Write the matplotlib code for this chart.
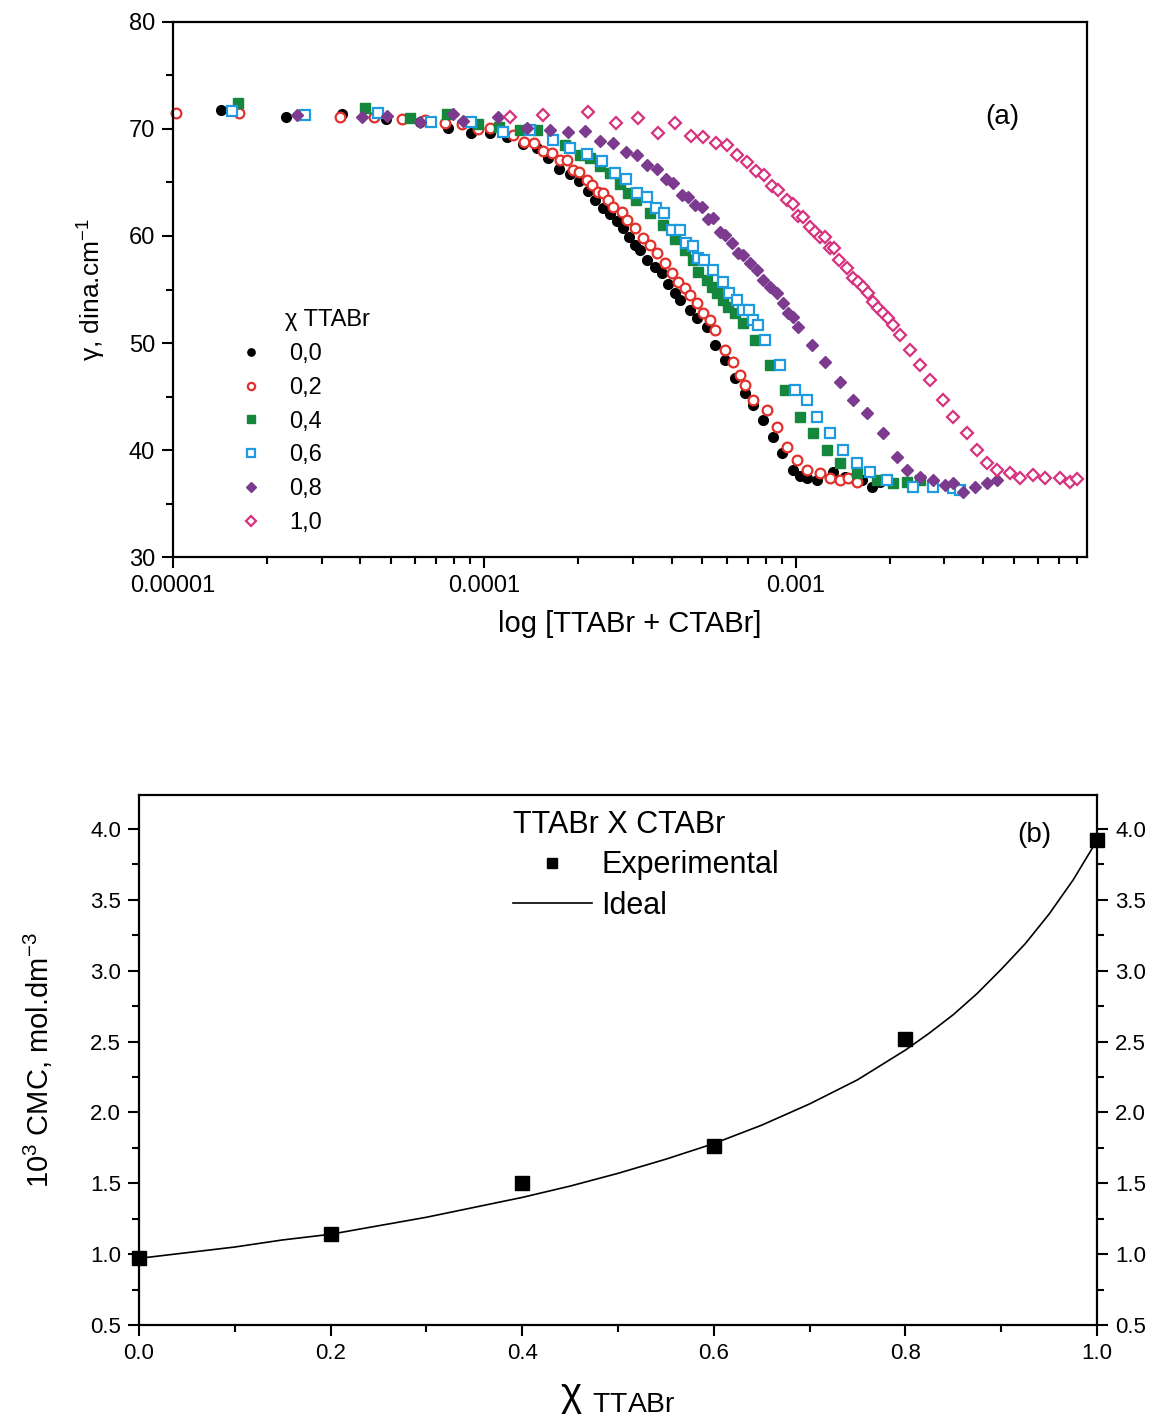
import numpy as np
import matplotlib
matplotlib.use("Agg")
import matplotlib.pyplot as plt
from matplotlib.ticker import FixedLocator, FixedFormatter, MultipleLocator, FormatStrFormatter, NullFormatter

plt.rcParams['font.family'] = ['Liberation Sans', 'DejaVu Sans']
plt.rcParams['mathtext.fontset'] = 'custom'
plt.rcParams['mathtext.rm'] = 'Liberation Sans'
plt.rcParams['mathtext.it'] = 'Liberation Sans:italic'
plt.rcParams['mathtext.bf'] = 'Liberation Sans:bold'

# ---- (a) surface tension vs total surfactant concentration ----
# x values are log10 of [TTABr + CTABr] (mol/L), y values are gamma (dina/cm)
logc_00 = [-4.846, -4.637, -4.457, -4.316, -4.207, -4.117, -4.043, -3.982, -3.928, -3.876,
           -3.831, -3.796, -3.761, -3.726, -3.697, -3.668, -3.645, -3.620, -3.597, -3.575,
           -3.555, -3.536, -3.517, -3.501, -3.478, -3.453, -3.430, -3.411, -3.388, -3.372,
           -3.340, -3.318, -3.286, -3.260, -3.228, -3.196, -3.164, -3.138, -3.106, -3.074,
           -3.045, -3.010, -2.987, -2.965, -2.933, -2.881, -2.843, -2.817, -2.788, -2.756, -2.730]
gam_00 = [71.78, 71.12, 71.40, 70.93, 70.65, 70.09, 69.63, 69.63, 69.25, 68.60,
          68.22, 67.29, 66.26, 65.79, 65.14, 64.21, 63.36, 62.62, 62.06, 61.40,
          60.75, 59.91, 59.16, 58.69, 57.76, 57.10, 56.54, 55.51, 54.67, 54.02,
          53.08, 52.34, 51.50, 49.81, 48.41, 46.73, 45.33, 44.21, 42.80, 41.21,
          39.72, 38.13, 37.57, 37.38, 37.20, 37.94, 37.48, 37.38, 37.20, 36.54, 37.01]

logc_02 = [-4.990, -4.788, -4.464, -4.355, -4.265, -4.191, -4.127, -4.072, -4.021, -3.982,
           -3.909, -3.873, -3.841, -3.812, -3.783, -3.758, -3.735, -3.716, -3.697, -3.671,
           -3.655, -3.636, -3.620, -3.604, -3.587, -3.559, -3.543, -3.517, -3.491, -3.469,
           -3.446, -3.421, -3.398, -3.379, -3.356, -3.340, -3.318, -3.299, -3.276, -3.260,
           -3.228, -3.202, -3.180, -3.164, -3.138, -3.093, -3.061, -3.029, -2.997, -2.965,
           -2.923, -2.891, -2.859, -2.833, -2.804]
gam_02 = [71.50, 71.50, 71.12, 71.12, 70.93, 70.84, 70.56, 70.47, 70.00, 70.09,
          69.44, 68.79, 68.69, 67.94, 67.76, 67.10, 67.10, 66.17, 65.98, 65.23,
          64.77, 64.11, 64.02, 63.36, 62.71, 62.24, 61.50, 60.75, 59.81, 59.16,
          58.41, 57.48, 56.54, 55.70, 55.14, 54.49, 53.74, 52.80, 52.15, 51.21,
          49.35, 48.22, 47.01, 46.07, 44.67, 43.74, 42.15, 40.28, 39.07, 38.13,
          37.85, 37.38, 37.20, 37.38, 37.01]

logc_04 = [-4.791, -4.384, -4.239, -4.120, -4.021, -3.953, -3.886, -3.831, -3.742, -3.693,
           -3.661, -3.629, -3.597, -3.565, -3.539, -3.514, -3.469, -3.427, -3.388, -3.356,
           -3.331, -3.315, -3.286, -3.270, -3.254, -3.234, -3.218, -3.196, -3.170, -3.132,
           -3.083, -3.035, -2.987, -2.945, -2.900, -2.859, -2.804, -2.740, -2.689, -2.644, -2.602]
gam_04 = [72.43, 71.96, 71.03, 71.40, 70.47, 70.19, 69.91, 69.91, 68.50, 67.57,
          67.29, 66.54, 65.89, 64.86, 64.02, 63.36, 62.15, 61.03, 59.72, 58.69,
          57.76, 56.64, 55.89, 55.23, 54.67, 54.02, 53.36, 52.80, 51.87, 50.28,
          47.94, 45.61, 43.08, 41.59, 40.00, 38.79, 37.85, 37.20, 36.92, 37.01, 37.20]

logc_06 = [-4.811, -4.576, -4.342, -4.172, -4.043, -3.941, -3.854, -3.780, -3.726, -3.671,
           -3.623, -3.581, -3.546, -3.510, -3.478, -3.449, -3.424, -3.398, -3.372, -3.353,
           -3.331, -3.315, -3.295, -3.266, -3.234, -3.215, -3.189, -3.170, -3.151, -3.138,
           -3.122, -3.100, -3.051, -3.003, -2.965, -2.933, -2.891, -2.849, -2.804, -2.762,
           -2.708, -2.624, -2.560, -2.496, -2.474]
gam_06 = [71.68, 71.31, 71.50, 70.65, 70.65, 69.72, 69.91, 68.97, 68.22, 67.66,
          67.01, 65.89, 65.33, 64.02, 63.64, 62.62, 62.15, 60.56, 60.56, 59.35,
          59.07, 57.94, 57.76, 56.82, 55.70, 54.67, 54.02, 53.08, 53.08, 52.15,
          51.68, 50.28, 47.94, 45.61, 44.67, 43.08, 41.59, 40.00, 38.79, 37.94,
          37.20, 36.54, 36.54, 36.45, 36.26]

logc_08 = [-4.602, -4.393, -4.313, -4.207, -4.101, -4.069, -3.957, -3.864, -3.790, -3.732,
           -3.677, -3.629, -3.587, -3.546, -3.510, -3.478, -3.446, -3.417, -3.395, -3.366,
           -3.347, -3.324, -3.302, -3.282, -3.266, -3.244, -3.228, -3.205, -3.186, -3.170,
           -3.148, -3.125, -3.106, -3.083, -3.061, -3.042, -3.026, -3.010, -2.994, -2.949,
           -2.907, -2.859, -2.817, -2.772, -2.721, -2.676, -2.644, -2.602, -2.560, -2.522,
           -2.496, -2.464, -2.425, -2.387, -2.355]
gam_08 = [71.31, 71.12, 71.21, 70.65, 71.40, 70.75, 71.12, 70.09, 69.91, 69.72,
          69.81, 68.88, 68.69, 67.85, 67.57, 66.64, 66.26, 65.33, 64.95, 63.83,
          63.64, 62.90, 62.71, 61.59, 61.68, 60.37, 60.09, 59.35, 58.41, 58.22,
          57.48, 56.82, 55.89, 55.23, 54.67, 53.74, 52.80, 52.43, 51.50, 49.81,
          48.22, 46.36, 44.67, 43.46, 41.59, 39.35, 38.13, 37.48, 37.20, 36.73,
          36.92, 36.07, 36.54, 36.92, 37.20]

logc_10 = [-3.918, -3.812, -3.668, -3.578, -3.507, -3.443, -3.388, -3.337, -3.299, -3.257,
           -3.222, -3.189, -3.157, -3.128, -3.103, -3.077, -3.058, -3.029, -3.010, -2.994,
           -2.978, -2.955, -2.939, -2.923, -2.907, -2.891, -2.878, -2.862, -2.836, -2.817,
           -2.801, -2.785, -2.769, -2.753, -2.737, -2.721, -2.705, -2.689, -2.666, -2.634,
           -2.602, -2.570, -2.528, -2.496, -2.451, -2.419, -2.387, -2.355, -2.313, -2.281,
           -2.239, -2.201, -2.152, -2.120, -2.098]
gam_10 = [71.12, 71.31, 71.59, 70.56, 71.03, 69.63, 70.56, 69.35, 69.25, 68.69,
          68.50, 67.57, 66.92, 66.07, 65.70, 64.67, 64.30, 63.36, 62.99, 61.87,
          61.78, 60.84, 60.37, 59.91, 59.91, 58.88, 58.88, 57.76, 57.01, 56.07,
          55.70, 55.23, 54.67, 53.83, 53.27, 52.80, 52.34, 51.68, 50.75, 49.35,
          47.94, 46.54, 44.67, 43.08, 41.59, 40.00, 38.79, 38.13, 37.85, 37.38,
          37.66, 37.38, 37.38, 37.01, 37.29]

fractions = ['0,0', '0,2', '0,4', '0,6', '0,8', '1,0']

# ---- (b) CMC vs mole fraction of TTABr ----
chi_exp = [0.0, 0.2, 0.4, 0.6, 0.8, 1.0]
cmc_exp = [0.97, 1.14, 1.50, 1.76, 2.52, 3.92]
chi_ideal = [0.00, 0.05, 0.10, 0.15, 0.20, 0.25, 0.30, 0.35, 0.40, 0.45, 0.50,
             0.55, 0.60, 0.65, 0.70, 0.75, 0.80, 0.825, 0.85, 0.875, 0.90,
             0.925, 0.95, 0.975, 1.00]
cmc_ideal = [0.97, 1.01, 1.05, 1.10, 1.14, 1.20, 1.26, 1.33, 1.40, 1.48, 1.57,
             1.67, 1.78, 1.91, 2.06, 2.23, 2.44, 2.56, 2.69, 2.84, 3.01,
             3.19, 3.40, 3.64, 3.92]

fig = plt.figure(figsize=(11.53, 14.16), dpi=100)

# top panel
ax1 = fig.add_axes([0.1500, 0.6066, 0.7927, 0.3779])
series = [
    (logc_00, gam_00, dict(marker='o', color='black', mfc='black', ms=7)),
    (logc_02, gam_02, dict(marker='o', color='#e2302b', mfc='white', ms=7, mew=1.6)),
    (logc_04, gam_04, dict(marker='s', color='#14873c', mfc='#14873c', ms=6.8)),
    (logc_06, gam_06, dict(marker='s', color='#1e9ae0', mfc='white', ms=6.8, mew=1.6)),
    (logc_08, gam_08, dict(marker='D', color='#7c3b8f', mfc='#7c3b8f', ms=6.5)),
    (logc_10, gam_10, dict(marker='D', color='#d6327f', mfc='white', ms=6.5, mew=1.6)),
]
handles = []
for (lc, g, st), lab in zip(series, fractions):
    h, = ax1.plot(10.0 ** np.array(lc), g, linestyle='none', label=lab, clip_on=False, **st)
    handles.append(h)

ax1.set_xscale('log')
ax1.set_xlim(1e-5, 8.6e-3)
ax1.set_ylim(30, 80)
ax1.xaxis.set_major_locator(FixedLocator([1e-5, 1e-4, 1e-3]))
ax1.xaxis.set_major_formatter(FixedFormatter(['0.00001', '0.0001', '0.001']))
ax1.xaxis.set_minor_locator(FixedLocator([k * 10.0 ** e for e in (-5, -4, -3) for k in range(2, 10)]))
ax1.xaxis.set_minor_formatter(NullFormatter())
ax1.yaxis.set_major_locator(MultipleLocator(10))
ax1.yaxis.set_minor_locator(MultipleLocator(5))
ax1.tick_params(which='both', direction='out', top=False, right=False, width=1.5, labelsize=17, pad=5)
ax1.tick_params(which='major', length=8)
ax1.tick_params(which='minor', length=5)
for s in ax1.spines.values():
    s.set_linewidth(1.6)
ax1.set_xlabel('log [TTABr + CTABr]', fontsize=21, labelpad=9)
ax1.set_ylabel('γ, dina.cm$^{-1}$', fontsize=19, labelpad=15)
ax1.text(0.907, 0.822, '(a)', transform=ax1.transAxes, fontsize=20, ha='center', va='center')

ax1.text(0.1225, 0.443, 'χ TTABr', transform=ax1.transAxes, fontsize=17, va='center')
ax1.legend(handles=handles, loc='upper left', bbox_to_anchor=(0.0755, 0.40), frameon=False,
           fontsize=17, handlelength=0.8, handletextpad=1.2, labelspacing=0.5,
           borderpad=0, borderaxespad=0, markerscale=0.75)

# bottom panel
ax2 = fig.add_axes([0.1206, 0.0643, 0.8309, 0.3743])
ax2.plot(chi_ideal, cmc_ideal, color='black', lw=1.2, label='Ideal', zorder=2)
ax2.plot(chi_exp, cmc_exp, linestyle='none', marker='s', color='black', ms=9.5,
         label='Experimental', clip_on=False, zorder=3)
ax2.set_xlim(0, 1)
ax2.set_ylim(0.5, 4.24)
ax2.xaxis.set_major_locator(MultipleLocator(0.2))
ax2.xaxis.set_minor_locator(MultipleLocator(0.1))
ax2.yaxis.set_major_locator(MultipleLocator(0.5))
ax2.yaxis.set_minor_locator(MultipleLocator(0.25))
ax2.xaxis.set_major_formatter(FormatStrFormatter('%.1f'))
ax2.yaxis.set_major_formatter(FormatStrFormatter('%.1f'))
ax2.tick_params(which='both', direction='out', top=False, left=True, right=True,
                labelleft=True, labelright=True, width=1.5, labelsize=16, pad=5)
ax2.tick_params(which='major', length=8)
ax2.tick_params(which='minor', length=5)
for s in ax2.spines.values():
    s.set_linewidth(1.6)
ax2.set_ylabel(r'10$^3$ CMC, mol.dm$^{-3}$', fontsize=21, labelpad=25)
ax2.set_xlabel(r'χ $_{\mathrm{TTABr}}$', fontsize=29, labelpad=10)
ax2.text(0.935, 0.925, '(b)', transform=ax2.transAxes, fontsize=20, ha='center', va='center')

leg_h, leg_l = ax2.get_legend_handles_labels()
ax2.legend([leg_h[1], leg_h[0]], [leg_l[1], leg_l[0]], title='TTABr X CTABr', title_fontsize=22,
           alignment='left', loc='upper left', bbox_to_anchor=(0.39, 0.972), frameon=False,
           fontsize=22, handlelength=2.6, handletextpad=0.3, labelspacing=0.35,
           borderpad=0, borderaxespad=0, markerscale=0.75)

fig.savefig('out.png', dpi=100)
